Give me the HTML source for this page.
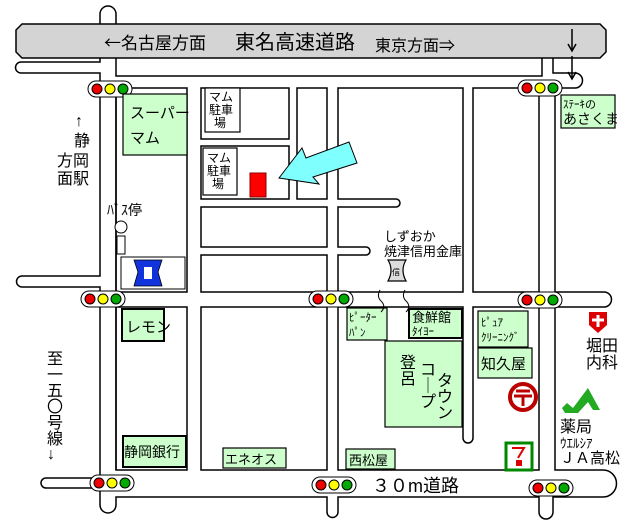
<!DOCTYPE html>
<html><head><meta charset="utf-8"><style>
html,body{margin:0;padding:0;background:#fff;}
svg{display:block;}
text{font-family:"Liberation Sans","Noto Sans CJK JP",sans-serif;fill:#000;}
</style></head><body>
<svg width="640" height="526" viewBox="0 0 640 526" xmlns="http://www.w3.org/2000/svg">
<rect width="640" height="526" fill="#fff"/>
<g fill="none" stroke="#000" stroke-width="1.5">
<path d="M100,24 V14 A8,8 0 0 1 116,14 V24"/>
<path d="M100,58 V62 H21 A5.5,5.5 0 0 0 21,73 H100 V276 H22 A5.5,5.5 0 0 0 22,287 H100 V478 H46 A5,5 0 0 0 46,488 H100 V505 A8,8 0 0 0 116,505 V497 H327 V512 A5.5,5.5 0 0 0 338,512 V497 H539 V512 A7,7 0 0 0 553,512 V497 H603 A13.5,13.5 0 0 0 603,470 H555 V307 H604 A7.5,7.5 0 0 0 604,292 H555 V88 H575 A7.5,7.5 0 0 0 575,73 H553 V58"/>
<path d="M116,58 V76 H542 V58"/>
<path d="M116,88 V470 H116"/>
<rect x="116" y="88" width="71" height="204"/>
<rect x="201" y="88" width="88" height="51"/>
<rect x="201" y="146" width="88" height="53"/>
<rect x="297" y="88" width="30" height="111"/>
<rect x="201" y="207" width="126" height="40"/>
<rect x="201" y="255" width="126" height="37"/>
<rect x="473" y="88" width="66" height="204"/>
<path d="M338,88 H463 V292 H338 V255 H366 A4,4 0 0 0 366,247 H338 V207 H396 A4,4 0 0 0 396,199 H338 Z"/>
<rect x="116" y="307" width="71" height="163"/>
<rect x="201" y="307" width="126" height="163"/>
<path d="M338,307 H463 V438 A5,5 0 0 0 473,438 V307 H539 V470 H338 Z"/>
</g>
<polygon points="22,24 600,24 606,30 606,52 600,58 22,58 16,52 16,30" fill="#d4d4d4" stroke="#000" stroke-width="1.5"/>
<text x="104" y="49" font-size="17"><tspan font-family="Noto Sans CJK JP">←</tspan>名古屋方面</text>
<text x="235" y="49" font-size="20">東名高速道路</text>
<text x="375" y="51" font-size="16">東京方面<tspan font-family="Noto Sans CJK JP">⇒</tspan></text>
<g stroke="#000" stroke-width="1.5">
<line x1="572" y1="29" x2="572" y2="50"/><path d="M568,44 L572,51 L576,44" fill="none"/>
<line x1="572" y1="56" x2="572" y2="78"/><path d="M568,72 L572,79 L576,72" fill="none"/>
</g>
<g stroke="#000" stroke-width="1">
<g transform="translate(110,89)"><rect x="-22" y="-8" width="44" height="16" rx="8" fill="#fff"/><circle cx="-13" r="5" fill="#e00"/><circle cx="0" r="5" fill="#ff0"/><circle cx="13" r="5" fill="#0a0"/></g>
<g transform="translate(540,88)"><rect x="-22" y="-8" width="44" height="16" rx="8" fill="#fff"/><circle cx="-13" r="5" fill="#e00"/><circle cx="0" r="5" fill="#ff0"/><circle cx="13" r="5" fill="#0a0"/></g>
<g transform="translate(103,299)"><rect x="-22" y="-8" width="44" height="16" rx="8" fill="#fff"/><circle cx="-13" r="5" fill="#e00"/><circle cx="0" r="5" fill="#ff0"/><circle cx="13" r="5" fill="#0a0"/></g>
<g transform="translate(331,299)"><rect x="-22" y="-8" width="44" height="16" rx="8" fill="#fff"/><circle cx="-13" r="5" fill="#e00"/><circle cx="0" r="5" fill="#ff0"/><circle cx="13" r="5" fill="#0a0"/></g>
<g transform="translate(540,300)"><rect x="-22" y="-8" width="44" height="16" rx="8" fill="#fff"/><circle cx="-13" r="5" fill="#e00"/><circle cx="0" r="5" fill="#ff0"/><circle cx="13" r="5" fill="#0a0"/></g>
<g transform="translate(112,483)"><rect x="-22" y="-8" width="44" height="16" rx="8" fill="#fff"/><circle cx="-13" r="5" fill="#e00"/><circle cx="0" r="5" fill="#ff0"/><circle cx="13" r="5" fill="#0a0"/></g>
<g transform="translate(334,485)"><rect x="-22" y="-8" width="44" height="16" rx="8" fill="#fff"/><circle cx="-13" r="5" fill="#e00"/><circle cx="0" r="5" fill="#ff0"/><circle cx="13" r="5" fill="#0a0"/></g>
<g transform="translate(551,488)"><rect x="-22" y="-8" width="44" height="16" rx="8" fill="#fff"/><circle cx="-13" r="5" fill="#e00"/><circle cx="0" r="5" fill="#ff0"/><circle cx="13" r="5" fill="#0a0"/></g>
</g>
<g fill="#ccffcc" stroke="#000" stroke-width="1.2">
<rect x="123" y="94" width="64" height="61"/>
<rect x="561" y="95" width="54" height="33"/>
<rect x="122" y="309" width="42" height="32" stroke-width="2"/>
<rect x="347" y="308" width="40" height="32"/>
<rect x="409" y="309" width="53" height="29" stroke-width="2"/>
<rect x="385" y="341" width="77" height="86"/>
<rect x="478" y="311" width="50" height="36"/>
<rect x="478" y="348" width="54" height="30"/>
<rect x="346" y="449" width="49" height="20"/>
<rect x="223" y="448" width="63" height="20"/>
<rect x="123" y="436" width="63" height="31" stroke-width="2"/>
</g>
<text x="130" y="118" font-size="15">スーパー</text>
<text x="130" y="143" font-size="15">マム</text>
<text x="563" y="108" font-size="11">ｽﾃｰｷの</text>
<text x="563" y="124" font-size="14">あさくま</text>
<text x="126" y="332" font-size="15">レモン</text>
<text x="349" y="321" font-size="11">ﾋﾟｰﾀｰ</text>
<text x="349" y="336" font-size="11">ﾊﾟﾝ</text>
<text x="412" y="322" font-size="13">食鮮館</text>
<text x="412" y="335" font-size="11">ﾀｲﾖｰ</text>
<text x="481" y="326" font-size="11">ﾋﾟｭｱ</text>
<text x="481" y="341" font-size="11">ｸﾘｰﾆﾝｸﾞ</text>
<text x="481" y="369" font-size="15">知久屋</text>
<text x="349" y="465" font-size="13">西松屋</text>
<text x="225" y="464" font-size="13">エネオス</text>
<text x="124" y="457" font-size="14">静岡銀行</text>
<text x="400" y="368" font-size="16">登</text><text x="400" y="384" font-size="16">呂</text>
<text x="420" y="375" font-size="16">コ</text><text x="420" y="391" font-size="16">｜</text><text x="420" y="407" font-size="16">プ</text>
<text x="437" y="386" font-size="16">タ</text><text x="437" y="402" font-size="16">ウ</text><text x="437" y="418" font-size="16">ン</text>
<g fill="#fff" stroke="#000" stroke-width="1.2">
<rect x="205" y="88" width="35" height="44"/>
<rect x="203" y="148" width="34" height="47"/>
</g>
<g font-size="12">
<text x="209" y="101">マム</text><text x="209" y="114">駐車</text><text x="214" y="127">場</text>
<text x="207" y="162">マム</text><text x="207" y="175">駐車</text><text x="212" y="188">場</text>
</g>
<rect x="250" y="173" width="16" height="24" fill="#f00" stroke="#800" stroke-width="1"/>
<polygon points="279,178 302,148 306,158 349,142 357,163 313,177 319,184" fill="#80ffff" stroke="#000" stroke-width="1"/>
<text x="75" y="126" font-size="16" font-family="Noto Sans CJK JP">↑</text>
<text x="74" y="146" font-size="16">静</text>
<text x="57" y="166" font-size="16">方岡</text>
<text x="57" y="184" font-size="16">面駅</text>
<g font-size="16">
<text x="47" y="364">至</text><text x="47" y="380">一</text><text x="47" y="396">五</text><text x="47" y="412">〇</text><text x="47" y="428">号</text><text x="47" y="444">線</text><text x="47" y="459" font-family="Noto Sans CJK JP">↓</text>
</g>
<text x="107" y="215" font-size="14">ﾊﾞｽ停</text>
<circle cx="121" cy="227" r="6" fill="#fff" stroke="#000"/>
<rect x="117" y="236" width="8" height="18" fill="#fff" stroke="#000"/>
<rect x="121" y="257" width="64" height="32" fill="#fff" stroke="#000"/>
<path d="M134,260 L162,260 L158,272 L162,286 L134,286 L138,272 Z" fill="#1133dd" stroke="#000" stroke-width="0.8"/>
<rect x="144" y="267" width="8" height="12" fill="#fff"/>
<text x="384" y="241" font-size="13">しずおか</text>
<text x="384" y="256" font-size="13">焼津信用金庫</text>
<path d="M388,260 L406,260 Q400,270 406,281 L388,281 Q394,270 388,260Z" fill="#ddd" stroke="#000" stroke-width="1.2"/>
<text x="392" y="275" font-size="8">信</text>
<path d="M380,290 Q376,297 382,302 Q386,307 381,312 M405,290 Q401,297 407,302 Q411,307 406,312" fill="none" stroke="#000" stroke-width="1"/>
<circle cx="523" cy="397" r="13" fill="#fff" stroke="#b00" stroke-width="4"/>
<path d="M516,391 H530 M514,396 H532 M523,396 V406" stroke="#b00" stroke-width="3"/>
<path d="M589,312 H607 V325 L598,333 L589,325 Z" fill="#d00"/>
<path d="M598,315 V327 M592,320 H604" stroke="#fff" stroke-width="3"/>
<text x="586" y="351" font-size="16">堀田</text>
<text x="586" y="368" font-size="16">内科</text>
<path d="M562,408 L567,403 L573,408 L588,388 L600,410 L593,410 L588,402 L578,413 L565,413 Z" fill="#2a2"/>
<text x="560" y="432" font-size="16">薬局</text>
<text x="560" y="448" font-size="13">ｳｴﾙｼｱ</text>
<text x="560" y="463" font-size="15">ＪＡ高松</text>
<rect x="506" y="443" width="26" height="27" fill="#fff" stroke="#080" stroke-width="3"/>
<rect x="516" y="460" width="6" height="6" fill="#d00"/>
<path d="M512,448 H524 L518,458" stroke="#d00" stroke-width="2" fill="none"/>
<text x="372" y="492" font-size="18">３０m道路</text>
</svg>
</body></html>
